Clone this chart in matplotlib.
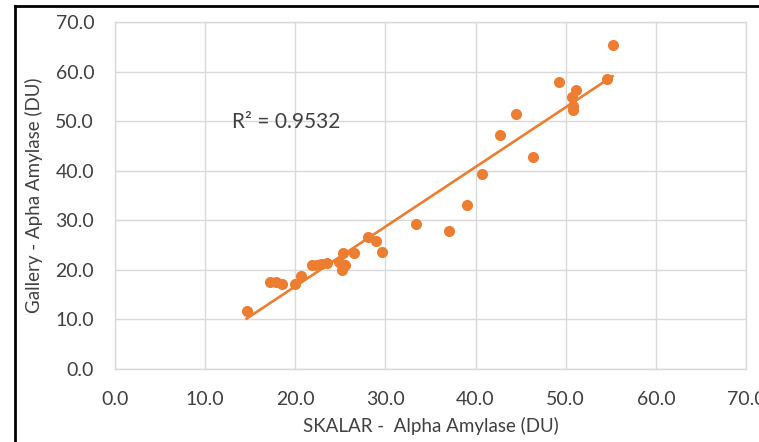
import matplotlib
matplotlib.use("Agg")
import matplotlib.pyplot as plt
from matplotlib.lines import Line2D
import numpy as np

# Data
skalar = [14.6, 17.2, 17.9, 18.5, 20.0, 20.6, 21.8, 22.4, 22.9, 23.5, 24.9, 25.2,
          25.3, 25.5, 26.5, 28.1, 29.0, 29.6, 33.4, 37.0, 39.0, 40.7, 42.7, 44.5,
          46.4, 49.3, 50.7, 50.8, 50.8, 51.1, 54.6, 55.2]
gallery = [11.7, 17.5, 17.6, 17.1, 17.1, 18.7, 21.0, 21.0, 21.2, 21.3, 21.5, 20.0,
           23.5, 21.0, 23.3, 26.7, 25.9, 23.6, 29.2, 27.9, 33.1, 39.4, 47.2, 51.5,
           42.8, 57.9, 54.8, 52.2, 53.1, 56.2, 58.6, 65.3]
ticks = [0, 10, 20, 30, 40, 50, 60, 70]
tick_labels = [f"{t:.1f}" for t in ticks]
r2_text = "R² = 0.9532"
xlabel = "SKALAR -  Alpha Amylase (DU)"
ylabel = "Gallery - Apha Amylase (DU)"

orange = "#ED7D31"
grid = "#D9D9D9"
txt = "#404040"
font = ["Lato", "DejaVu Sans"]

W, H = 759, 442
fig = plt.figure(figsize=(W / 100, H / 100), dpi=100)
left, right, top, bottom = 115, 746, 22, 369
ax = fig.add_axes([left / W, 1 - bottom / H, (right - left) / W, (bottom - top) / H])

x = np.array(skalar)
y = np.array(gallery)
ax.scatter(x, y, s=64, color=orange, zorder=3, linewidths=0)
m, b = np.polyfit(x, y, 1)
xs = np.array([x.min(), x.max()])
ax.plot(xs, m * xs + b, color=orange, lw=1.9, zorder=2)

ax.set_xlim(0, 70)
ax.set_ylim(0, 70)
ax.set_xticks(ticks)
ax.set_yticks(ticks)
ax.set_xticklabels(tick_labels, fontfamily=font, fontsize=14, color=txt)
ax.set_yticklabels(tick_labels, fontfamily=font, fontsize=14, color=txt)
ax.tick_params(length=0, pad=15)
ax.tick_params(axis="x", pad=16)
ax.grid(True, color=grid, lw=1)
ax.set_axisbelow(True)
for s in ax.spines.values():
    s.set_color(grid)
    s.set_linewidth(1)

ax.set_xlabel(xlabel, fontfamily=font, fontsize=13.5, color=txt, labelpad=6)
ax.set_ylabel(ylabel, fontfamily=font, fontsize=13.5, color=txt, labelpad=9)

ax.text(13.0, 49.8, r2_text, fontfamily=font, fontsize=15, color=txt,
        va="center", ha="left")

# outer black frame lines (left and top)
fig.add_artist(Line2D([15 / W, 15 / W], [0, 1 - 6 / H], color="black", lw=2,
                      transform=fig.transFigure))
fig.add_artist(Line2D([15 / W, 1], [1 - 6 / H, 1 - 6 / H], color="black", lw=2,
                      transform=fig.transFigure))

fig.savefig("out.png", dpi=100)
